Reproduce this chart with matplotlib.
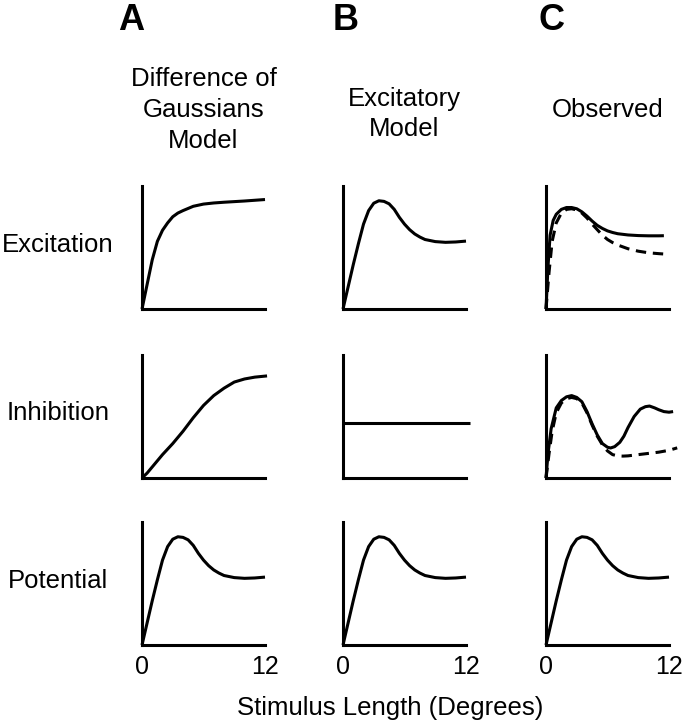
import matplotlib
matplotlib.use("Agg")
import matplotlib.pyplot as plt

plt.rcParams["font.family"] = ["Liberation Sans", "DejaVu Sans"]

W, H = 688, 720

COL_LETTERS = ["A", "B", "C"]
COL_TITLES = ["Difference of\nGaussians\nModel", "Excitatory\nModel", "Observed"]
ROW_LABELS = ["Excitation", "Inhibition", "Potential"]
X_TICKS = [0, 12]
X_LABEL = "Stimulus Length (Degrees)"

# peaked response (B excitation and all potential panels)
peak_x = [0, 0.5, 1, 1.5, 2, 2.5, 3, 3.5, 4, 4.5, 5, 5.5, 6, 6.5, 7, 7.5, 8, 9, 10, 11, 12]
peak_y = [0, 0.18, 0.36, 0.53, 0.69, 0.8, 0.86, 0.88, 0.875, 0.855, 0.81, 0.745, 0.69,
          0.645, 0.61, 0.585, 0.565, 0.548, 0.542, 0.545, 0.552]

# difference of gaussians model
dog_exc_x = [0, 0.5, 1, 1.5, 2, 2.5, 3, 3.5, 4, 5, 6, 7, 8, 9, 10, 11, 12]
dog_exc_y = [0, 0.2, 0.4, 0.55, 0.64, 0.7, 0.75, 0.78, 0.8, 0.835, 0.853, 0.862, 0.868,
             0.873, 0.878, 0.884, 0.89]
dog_inh_x = [0, 0.5, 1, 1.5, 2, 3, 4, 5, 6, 7, 8, 9, 10, 11, 12.2]
dog_inh_y = [0, 0.04, 0.09, 0.14, 0.19, 0.28, 0.38, 0.49, 0.59, 0.67, 0.73, 0.78, 0.805,
             0.82, 0.83]

# excitatory model inhibition (flat)
exm_inh_x = [0, 12.4]
exm_inh_y = [0.45, 0.45]

# observed
obs_exc_x = [0, 0.2, 0.4, 0.7, 1, 1.5, 2, 2.5, 3, 3.5, 4, 4.5, 5, 5.5, 6, 6.5, 7, 8, 9,
             10, 11, 11.5]
obs_exc_y = [0, 0.35, 0.6, 0.72, 0.77, 0.81, 0.825, 0.825, 0.815, 0.79, 0.755, 0.715,
             0.68, 0.655, 0.635, 0.622, 0.612, 0.602, 0.597, 0.595, 0.595, 0.596]
obs_exc_dash_x = [0, 0.3, 0.6, 1, 1.5, 2, 2.5, 3, 3.5, 4, 4.5, 5, 5.5, 6, 6.5, 7, 8, 9,
                  10, 11, 11.9]
obs_exc_dash_y = [0, 0.3, 0.55, 0.7, 0.78, 0.81, 0.815, 0.805, 0.78, 0.74, 0.69, 0.645,
                  0.6, 0.565, 0.54, 0.52, 0.49, 0.47, 0.457, 0.45, 0.445]
obs_inh_x = [0, 0.2, 0.5, 1, 1.5, 2, 2.5, 3, 3.5, 4, 4.5, 5, 5.5, 6, 6.3, 6.7, 7.2, 7.6,
             8, 8.6, 9.2, 9.7, 10.1, 10.6, 11, 11.5, 12, 12.4]
obs_inh_y = [0, 0.2, 0.4, 0.57, 0.63, 0.66, 0.67, 0.655, 0.62, 0.54, 0.44, 0.35, 0.28,
             0.25, 0.244, 0.255, 0.29, 0.34, 0.41, 0.5, 0.56, 0.58, 0.585, 0.57, 0.555,
             0.54, 0.535, 0.54]
obs_inh_dash_x = [0, 0.3, 0.6, 1, 1.5, 2, 2.5, 3, 3.5, 4, 4.5, 5, 5.5, 6, 6.5, 7, 7.5, 8,
                  9, 10, 11, 12, 12.8]
obs_inh_dash_y = [0, 0.2, 0.38, 0.53, 0.61, 0.645, 0.655, 0.645, 0.61, 0.53, 0.43, 0.34,
                  0.27, 0.22, 0.19, 0.18, 0.178, 0.18, 0.19, 0.2, 0.21, 0.225, 0.245]

# panels[row][col] -> list of (x, y, dashed)
panels = [
    [[(dog_exc_x, dog_exc_y, False)],
     [(peak_x, peak_y, False)],
     [(obs_exc_x, obs_exc_y, False), (obs_exc_dash_x, obs_exc_dash_y, True)]],
    [[(dog_inh_x, dog_inh_y, False)],
     [(exm_inh_x, exm_inh_y, False)],
     [(obs_inh_x, obs_inh_y, False), (obs_inh_dash_x, obs_inh_dash_y, True)]],
    [[(peak_x, peak_y, False)],
     [(peak_x, peak_y, False)],
     [(peak_x, peak_y, False)]],
]

col_left = [142, 343, 546]
row_top = [186, 355, 522]
size = 123
LW = 2.2

fig = plt.figure(figsize=(W / 100, H / 100), dpi=100)

for r in range(3):
    for c in range(3):
        ax = fig.add_axes([col_left[c] / W, 1 - (row_top[r] + size) / H, size / W, size / H])
        for x, y, dashed in panels[r][c]:
            ax.plot(x, y, color="black", lw=LW, ls=(0, (3.4, 2.2)) if dashed else "-",
                    clip_on=False, solid_capstyle="butt")
        ax.set_xlim(0, 12)
        ax.set_ylim(0, 1)
        ax.spines["top"].set_visible(False)
        ax.spines["right"].set_visible(False)
        ax.spines["left"].set_linewidth(LW)
        ax.spines["bottom"].set_linewidth(LW)
        ax.set_yticks([])
        ax.set_xticks(X_TICKS)
        ax.tick_params(axis="x", length=0, pad=7, labelsize=18)
        if r < 2:
            ax.set_xticklabels([])

title_y = [110, 114, 110]
for c in range(3):
    cx = (col_left[c] + size / 2) / W
    fig.text(cx, 1 - title_y[c] / H, COL_TITLES[c], ha="center", va="center",
             fontsize=18.5, linespacing=1.35)

letter_x = [118, 333, 538]
for c in range(3):
    fig.text(letter_x[c] / W, 1 - 30 / H, COL_LETTERS[c], ha="left", va="baseline",
             fontsize=26, fontweight="bold")

for r in range(3):
    fig.text(58 / W, 1 - (row_top[r] + size / 2 - 3) / H, ROW_LABELS[r], ha="center",
             va="center", fontsize=18.5)

fig.text(390 / W, 1 - 708 / H, X_LABEL, ha="center", va="center", fontsize=18.5)

fig.savefig("out.png", dpi=100)
